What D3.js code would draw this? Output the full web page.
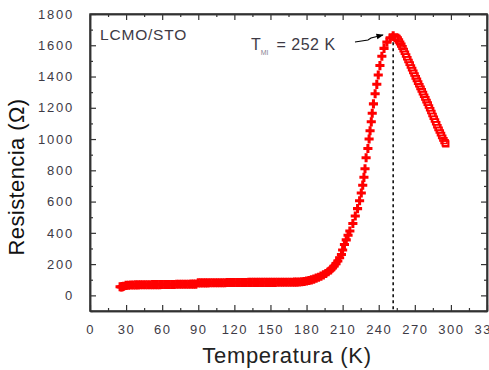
<!DOCTYPE html>
<html>
<head>
<meta charset="utf-8">
<script src="https://cdn.jsdelivr.net/npm/d3@7"></script>
<style>
  body { margin: 0; background: #fff; }
  text { font-family: Arial, "Liberation Sans", sans-serif; }
</style>
</head>
<body>
<div id="chart"></div>
<script>
// Rising branch (filled crosses): temperature (K) and resistance (Ohm)
const riseT = [25, 26, 27, 28, 30, 32, 34, 36, 38, 40, 42, 44, 46, 48, 50, 52, 54, 56, 58, 60,
  62, 64, 66, 68, 70, 72, 74, 76, 78, 80, 82, 84, 86, 88, 90, 92, 94, 96, 98, 100,
  102, 104, 106, 108, 110, 112, 114, 116, 118, 120, 122, 124, 126, 128, 130, 132, 134, 136, 138, 140,
  142, 144, 146, 148, 150, 152, 154, 156, 158, 160, 162, 164, 166, 168, 170, 172, 174, 176, 178, 180,
  182, 184, 186, 188, 190, 192, 194, 196, 198, 200, 201.5, 203, 204.5, 206, 207.5, 209, 210, 211.5, 213, 214.5,
  216, 218.5, 220.5, 222.4, 224.1, 225.5, 226.7, 227.7, 228.6, 229.5, 231, 232, 232.8, 233.8, 234.6, 235.6,
  237, 238.4, 239.6, 241, 242.6, 244.4, 246.8, 249.5, 252];
const riseR = [55, 54, 56, 58, 64, 65, 66, 66, 67, 67, 68, 68, 68, 68, 68, 69, 69, 69, 69, 70,
  70, 70, 70, 70, 70, 71, 71, 71, 71, 71, 71, 72, 72, 72, 80, 80, 80, 80, 80, 81,
  81, 81, 81, 81, 81, 81, 82, 82, 82, 82, 82, 82, 82, 82, 82, 83, 83, 83, 83, 83,
  83, 83, 83, 83, 83, 83, 83, 84, 84, 84, 84, 84, 84, 84, 85, 85, 86, 87, 89, 92,
  95, 99, 104, 110, 116, 123, 131, 140, 151, 163, 175, 188, 203, 220, 240, 262, 290, 325, 355, 385,
  412, 460, 508, 555, 605, 655, 705, 755, 810, 880, 940, 1000, 1053, 1110, 1165, 1225,
  1290, 1350, 1410, 1470, 1530, 1580, 1620, 1648, 1660];

// Falling branch (open squares)
const fallT = [252, 253, 254, 255, 256, 257, 258, 259, 260, 261, 262, 263, 264, 265, 266, 267, 268, 269, 270, 271,
  272, 273, 274, 275, 276, 277, 278, 279, 280, 281, 282, 283, 284, 285, 286, 287, 288, 289, 290, 291,
  292, 293, 294, 294.5];
const fallR = [1660, 1657, 1650, 1640, 1628, 1614, 1600, 1584, 1567, 1550, 1532, 1514, 1497, 1480, 1462, 1445, 1428, 1410, 1393, 1376,
  1359, 1342, 1326, 1309, 1292, 1275, 1258, 1241, 1224, 1206, 1188, 1170, 1152, 1134, 1116, 1098, 1080, 1063, 1046, 1029,
  1012, 996, 983, 976];

const xTicks = [0, 30, 60, 90, 120, 150, 180, 210, 240, 270, 300, 330];
const yTicks = [0, 200, 400, 600, 800, 1000, 1200, 1400, 1600, 1800];
const tMI = 252;

const width = 489, height = 370;
const plotLeft = 90, plotRight = 487, plotTop = 14, plotBottom = 311;

const svg = d3.select("#chart")
  .append("svg")
    .attr("width", width)
    .attr("height", height);

const x = d3.scaleLinear().domain([0, 330]).range([plotLeft, plotRight]);
const y = d3.scaleLinear().domain([-100, 1800]).range([plotBottom, plotTop]);

const axisColor = "#333";
const labelColor = "#3d3a45";

// minor ticks (inward, all four sides)
const xMinor = d3.range(15, 330, 30);
const yMinor = d3.range(-100, 1800, 200);

function styleAxis(g) {
  g.selectAll("path").attr("stroke", axisColor).attr("stroke-width", 1.5);
  g.selectAll("line").attr("stroke", axisColor).attr("stroke-width", 1.2);
}

svg.append("g").attr("transform", `translate(0,${plotBottom})`)
  .call(d3.axisBottom(x).tickValues(xMinor).tickSize(-3).tickFormat("").tickSizeOuter(0))
  .call(styleAxis);
svg.append("g").attr("transform", `translate(0,${plotTop})`)
  .call(d3.axisTop(x).tickValues(xMinor).tickSize(-3).tickFormat("").tickSizeOuter(0))
  .call(styleAxis);
svg.append("g").attr("transform", `translate(${plotLeft},0)`)
  .call(d3.axisLeft(y).tickValues(yMinor).tickSize(-3).tickFormat("").tickSizeOuter(0))
  .call(styleAxis);
svg.append("g").attr("transform", `translate(${plotRight},0)`)
  .call(d3.axisRight(y).tickValues(yMinor).tickSize(-3).tickFormat("").tickSizeOuter(0))
  .call(styleAxis);

// major ticks
const xAxis = svg.append("g").attr("transform", `translate(0,${plotBottom})`)
  .call(d3.axisBottom(x).tickValues(xTicks).tickSize(-6).tickPadding(14).tickFormat(d3.format("d")).tickSizeOuter(0))
  .call(styleAxis);
svg.append("g").attr("transform", `translate(0,${plotTop})`)
  .call(d3.axisTop(x).tickValues(xTicks).tickSize(-6).tickFormat("").tickSizeOuter(0))
  .call(styleAxis);
const yAxis = svg.append("g").attr("transform", `translate(${plotLeft},0)`)
  .call(d3.axisLeft(y).tickValues(yTicks).tickSize(-6).tickPadding(16).tickFormat(d3.format("d")).tickSizeOuter(0))
  .call(styleAxis);
svg.append("g").attr("transform", `translate(${plotRight},0)`)
  .call(d3.axisRight(y).tickValues(yTicks).tickSize(-6).tickFormat("").tickSizeOuter(0))
  .call(styleAxis);

xAxis.selectAll("text")
  .attr("fill", labelColor)
  .style("font-size", "13px")
  .style("letter-spacing", "1.5px");
yAxis.selectAll("text")
  .attr("fill", labelColor)
  .style("font-size", "13px")
  .style("letter-spacing", "1.8px");

// frame
svg.append("rect")
  .attr("x", plotLeft).attr("y", plotTop)
  .attr("width", plotRight - plotLeft).attr("height", plotBottom - plotTop)
  .attr("fill", "none")
  .attr("stroke", axisColor)
  .attr("stroke-width", 1.5);

// dashed line at T_MI
svg.append("line")
  .attr("x1", x(tMI)).attr("x2", x(tMI))
  .attr("y1", y(1620)).attr("y2", plotBottom)
  .attr("stroke", "#000")
  .attr("stroke-width", 1.5)
  .attr("stroke-dasharray", "3,3");

// data
const rise = riseT.map((t, i) => ({ t: t, r: riseR[i] }));
const fall = fallT.map((t, i) => ({ t: t, r: fallR[i] }));

svg.append("g").selectAll("path")
  .data(fall)
  .enter()
  .append("path")
    .attr("transform", d => `translate(${x(d.t) + 1.5},${y(d.r) + 1})`)
    .attr("d", d3.symbol(d3.symbolSquare, 34))
    .attr("fill", "none")
    .attr("stroke", "#ff0000")
    .attr("stroke-width", 1.5);

svg.append("g").selectAll("path")
  .data(rise)
  .enter()
  .append("path")
    .attr("transform", d => `translate(${x(d.t)},${y(d.r)})`)
    .attr("d", d3.symbol(d3.symbolCross, 46))
    .attr("fill", "#ff0000");

// annotations
svg.append("text")
  .attr("x", 100).attr("y", 40)
  .attr("fill", labelColor)
  .style("font-size", "15.5px")
  .style("letter-spacing", "0.8px")
  .text("LCMO/STO");

const tm = svg.append("text")
  .attr("x", 251).attr("y", 50)
  .attr("fill", labelColor)
  .style("font-size", "16px");
tm.append("tspan").text("T");
tm.append("tspan")
  .attr("dy", 5)
  .attr("fill", "#8a8595")
  .style("font-size", "7px")
  .text("MI");
tm.append("tspan")
  .attr("dy", -5)
  .attr("dx", 3)
  .style("letter-spacing", "0.5px")
  .text(" = 252 K");

// arrow
svg.append("defs").append("marker")
  .attr("id", "head")
  .attr("viewBox", "0 0 10 10")
  .attr("refX", 9).attr("refY", 5)
  .attr("markerWidth", 6).attr("markerHeight", 6)
  .attr("orient", "auto")
  .append("path")
    .attr("d", "M0,1 L10,5 L0,9 Z")
    .attr("fill", "#000");

svg.append("path")
  .attr("d", "M355,42 L368,40 L371,38 L383,35")
  .attr("fill", "none")
  .attr("stroke", "#000")
  .attr("stroke-width", 1.2)
  .attr("marker-end", "url(#head)");

// axis titles
svg.append("text")
  .attr("x", 287).attr("y", 363)
  .attr("text-anchor", "middle")
  .attr("fill", "#222")
  .style("font-size", "22px")
  .style("letter-spacing", "0.7px")
  .text("Temperatura (K)");

svg.append("text")
  .attr("transform", "translate(24,177) rotate(-90)")
  .attr("text-anchor", "middle")
  .attr("fill", "#111")
  .style("font-size", "22px")
  .style("letter-spacing", "0.4px")
  .text("Resistencia (Ω)");
</script>
</body>
</html>
